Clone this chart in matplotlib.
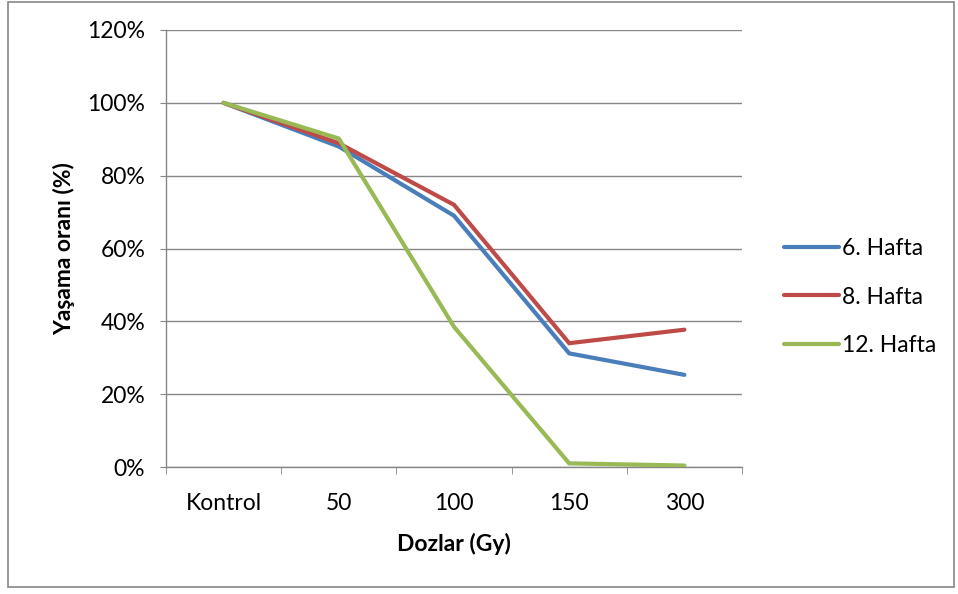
import matplotlib
matplotlib.use("Agg")
import matplotlib.pyplot as plt
from matplotlib.patches import Rectangle

categories = ["Kontrol", "50", "100", "150", "300"]
hafta_6 = [100, 88.0, 69.0, 31.2, 25.3]
hafta_8 = [100, 88.9, 72.0, 34.0, 37.7]
hafta_12 = [100, 90.2, 38.5, 1.0, 0.4]
series_names = ["6. Hafta", "8. Hafta", "12. Hafta"]
y_ticks = [0, 20, 40, 60, 80, 100, 120]

plt.rcParams["font.family"] = ["Lato", "DejaVu Sans"]
FS = 16.5

W, H = 958, 594
fig = plt.figure(figsize=(W / 100, H / 100), dpi=100)
ax = fig.add_axes([166 / W, 1 - 467 / H, (742 - 166) / W, (467 - 30) / H])

colors = ["#4A7EBB", "#BE4B48", "#98B954"]
x = list(range(len(categories)))
for vals, name, c in zip([hafta_6, hafta_8, hafta_12], series_names, colors):
    ax.plot(x, vals, color=c, lw=3.0, label=name, solid_capstyle="round",
            solid_joinstyle="miter", zorder=3)

ax.set_xlim(-0.5, len(categories) - 0.5)
ax.set_ylim(0, 120)
ax.set_yticks(y_ticks)
ax.set_yticklabels([f"{v}%" for v in y_ticks])
ax.set_xticks(x)
ax.set_xticklabels(categories)
ax.set_xticks([i - 0.5 for i in range(len(categories) + 1)], minor=True)
ax.tick_params(axis="x", which="major", length=0, pad=19, labelsize=FS, colors="#000000")
ax.tick_params(axis="x", which="minor", length=5, color="#868686", direction="out")
ax.tick_params(axis="y", length=4, color="#868686", pad=11, labelsize=FS)

ax.grid(axis="y", color="#868686", lw=1.0)
ax.set_axisbelow(True)
for s in ["top", "right"]:
    ax.spines[s].set_visible(False)
for s in ["left", "bottom"]:
    ax.spines[s].set_color("#868686")
    ax.spines[s].set_linewidth(1.0)

ax.set_xlabel("Dozlar (Gy)", fontsize=FS, fontweight="bold", labelpad=13)
ax.set_ylabel("Yaşama oranı (%)", fontsize=FS, fontweight="bold", labelpad=9)

leg = fig.legend(loc="center left", bbox_to_anchor=(784 / W, 1 - 297 / H),
                 frameon=False, fontsize=FS, handlelength=2.4,
                 handletextpad=0.15, labelspacing=1.2, borderaxespad=0,
                 borderpad=0)

fig.patches.append(Rectangle((8 / W, 1 - 587 / H), (954 - 8) / W, (587 - 2) / H,
                             transform=fig.transFigure, fill=False,
                             edgecolor="#868686", lw=1.2))

fig.savefig("out.png", dpi=100)
